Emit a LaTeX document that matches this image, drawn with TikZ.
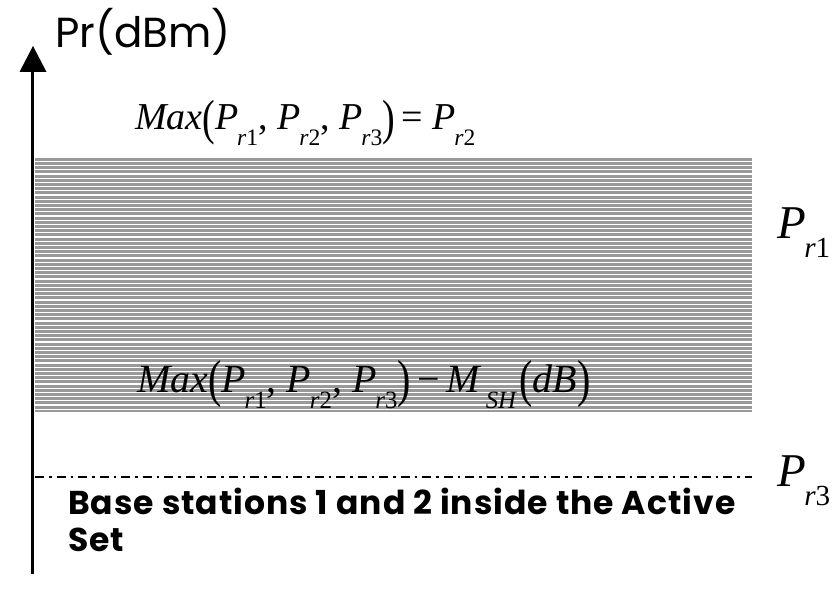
\documentclass[tikz,border=0pt]{standalone}
\usepackage{fontspec}
\usepackage{graphicx}
\setmainfont{Liberation Serif}
\newfontfamily\pop{Poppins}
\newfontfamily\popcap[LetterSpace=3.0]{Poppins}
\definecolor{hatch}{RGB}{153,153,153}
\newcommand\Psub[2]{\textit{P}\kern-0.03em\raisebox{-0.42em}{\scalebox{0.62}{\textit{r}#2}}}
\newcommand\Lp{\raisebox{-0.12em}{\scalebox{1}[1.3]{(}}}
\newcommand\Rp{\raisebox{-0.12em}{\scalebox{1}[1.3]{)}}}
\begin{document}
\begin{tikzpicture}[x=1pt,y=-1pt,
  formula/.style={anchor=base west,inner sep=0pt,outer sep=0pt},
  axislabel/.style={anchor=base west,inner sep=0pt,font=\pop\fontsize{42}{50}\selectfont},
  caption/.style={anchor=base west,inner sep=0pt,align=left,font=\popcap\bfseries\fontsize{33}{37}\selectfont},
  levelline/.style={line width=2pt,dash pattern=on 9pt off 5pt on 2.5pt off 5pt}]
\useasboundingbox (0,0) rectangle (832,591);
% hatched band
\fill[hatch] (35,158) rectangle (752,412);
\foreach \i in {0,...,59} \draw[white,line width=1.2pt] (35,{161.3+4.2*\i}) -- (752,{161.3+4.2*\i});
% axis
\coordinate (axbot) at (32.5,574);
\coordinate (axtop) at (32.5,72);
\draw[line width=3.5pt] (axbot) -- (axtop);
\fill (19.5,72) -- (46.5,72) -- (33,46) -- cycle;
\node[axislabel] (ylab) at (55,48) {Pr(dBm)};
% level line
\coordinate (l3a) at (35,477);
\coordinate (l3b) at (752,477);
\draw[levelline] (l3a) -- (l3b);
% formulas
\node[formula,font=\fontsize{38}{44}\selectfont] (fmax) at (135,130)
  {\textit{Max}\Lp\Psub{}{1}, \Psub{}{2}, \Psub{}{3}\Rp\,= \Psub{}{2}};
\node[formula,font=\fontsize{40}{46}\selectfont] (fmin) at (137,392)
  {\textit{Max}\Lp\Psub{}{1}, \Psub{}{2}, \Psub{}{3}\Rp\,−\,\textit{M}\kern0.1em\raisebox{-0.42em}{\scalebox{0.62}{\textit{SH}}}\kern0.05em\Lp\textit{dB}\Rp};
\node[formula,font=\fontsize{47}{52}\selectfont] (p1) at (777,238) {\Psub{}{1}};
\node[formula,font=\fontsize{47}{52}\selectfont] (p3) at (777,486) {\Psub{}{3}};
% caption
\node[caption] (cap) at (68,551) {Base stations 1 and 2 inside the Active\\Set};
\end{tikzpicture}
\end{document}
